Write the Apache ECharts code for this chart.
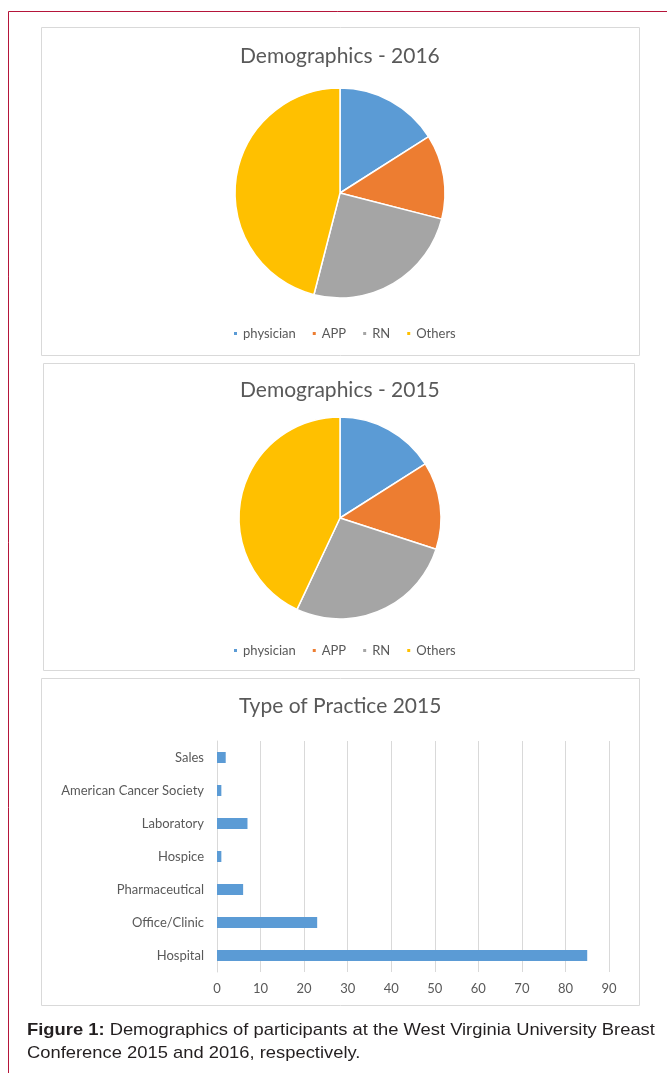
<!DOCTYPE html>
<html>
<head>
<meta charset="utf-8">
<script src="https://cdn.jsdelivr.net/npm/echarts@6/dist/echarts.min.js"></script>
<style>
  html, body { margin: 0; padding: 0; background: #fff; }
  #main { width: 667px; height: 1073px; }
</style>
</head>
<body>
<div id="main"></div>
<script>
// pie data
var roles = ['physician', 'APP', 'RN', 'Others'];
var roleColors = ['#5B9BD5', '#ED7D31', '#A5A5A5', '#FFC000'];
var values2016 = [16, 13, 25, 46];
var values2015 = [16, 14, 27, 43];

// bar data (bottom to top)
var practices = ['Hospital', 'Office/Clinic', 'Pharmaceutical', 'Hospice', 'Laboratory', 'American Cancer Society', 'Sales'];
var practiceCounts = [85, 23, 6, 1, 7, 1, 2];

var font = 'Lato, "Open Sans", sans-serif';
var textGrey = '#595959';

function pieData(vals) {
  return roles.map(function(r, i) {
    return { name: r, value: vals[i], itemStyle: { color: roleColors[i] } };
  });
}

var titleStyle = { fontFamily: font, fontSize: 21, fontWeight: 'normal', color: textGrey };
var legendText = { fontFamily: font, fontSize: 13, color: textGrey };

var myChart = echarts.init(document.getElementById('main'));

var option = {
  animation: false,
  title: [
    { text: 'Demographics - 2016', left: 235, top: 41, textStyle: titleStyle },
    { text: 'Demographics - 2015', left: 235, top: 375, textStyle: titleStyle },
    { text: 'Type of Practice 2015', left: 234, top: 691, textStyle: titleStyle }
  ],
  legend: [
    { data: roles, top: 322, left: 227, icon: 'rect', itemWidth: 5, itemHeight: 5, itemGap: 15,
      textStyle: legendText },
    { data: roles, top: 639, left: 227, icon: 'rect', itemWidth: 5, itemHeight: 5, itemGap: 15,
      textStyle: legendText }
  ],
  grid: { left: 217, right: 58, top: 741, bottom: 101 },
  xAxis: {
    type: 'value', min: 0, max: 90, interval: 10,
    axisLine: { show: false }, axisTick: { show: false },
    axisLabel: { fontFamily: font, fontSize: 13, color: textGrey, margin: 10 },
    splitLine: { lineStyle: { color: '#d9d9d9' } }
  },
  yAxis: {
    type: 'category', data: practices,
    axisLine: { show: true, lineStyle: { color: '#d9d9d9' } }, axisTick: { show: false },
    axisLabel: { fontFamily: font, fontSize: 13, color: textGrey, margin: 13 }
  },
  series: [
    { type: 'pie', center: [340, 193], radius: 105, data: pieData(values2016),
      label: { show: false }, labelLine: { show: false },
      itemStyle: { borderColor: '#fff', borderWidth: 1.5 } },
    { type: 'pie', center: [340, 518], radius: 101, data: pieData(values2015),
      label: { show: false }, labelLine: { show: false },
      itemStyle: { borderColor: '#fff', borderWidth: 1.5 } },
    { type: 'bar', data: practiceCounts, barWidth: 11,
      itemStyle: { color: '#5B9BD5' } }
  ],
  graphic: [
    // red frame
    { type: 'line', shape: { x1: 8.5, y1: 11.5, x2: 667, y2: 11.5 }, style: { stroke: '#b5153a', lineWidth: 1 } },
    { type: 'line', shape: { x1: 8.5, y1: 11.5, x2: 8.5, y2: 1073 }, style: { stroke: '#b5153a', lineWidth: 1 } },
    // panel borders
    { type: 'rect', shape: { x: 41.5, y: 27.5, width: 598, height: 328 }, style: { fill: null, stroke: '#d9d9d9', lineWidth: 1 }, z: -1 },
    { type: 'rect', shape: { x: 43.5, y: 363.5, width: 591, height: 307 }, style: { fill: null, stroke: '#d9d9d9', lineWidth: 1 }, z: -1 },
    { type: 'rect', shape: { x: 41.5, y: 678.5, width: 598, height: 327 }, style: { fill: null, stroke: '#d9d9d9', lineWidth: 1 }, z: -1 },
    // caption
    { type: 'text', x: 27, y: 1019, scaleX: 1.08,
      style: {
        text: '{b|Figure 1:} Demographics of participants at the West Virginia University Breast\nConference 2015 and 2016, respectively.',
        font: '17px "Liberation Sans", Arial, sans-serif', fill: '#231f20', lineHeight: 23,
        rich: { b: { fontWeight: 'bold', fontSize: 17, fontFamily: '"Liberation Sans", Arial, sans-serif', fill: '#231f20' } }
      } }
  ]
};

myChart.setOption(option);
window.addEventListener('resize', function() {
  myChart.resize();
});
</script>
</body>
</html>
